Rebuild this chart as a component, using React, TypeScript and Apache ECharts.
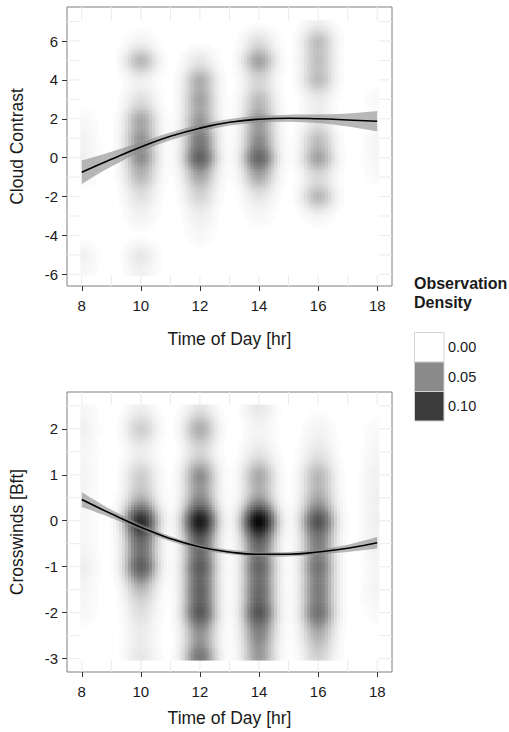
import React, { useEffect, useRef } from "react";
import * as echarts from "echarts";

// ---------- data ----------
const hourTicks = [8, 10, 12, 14, 16, 18];
const hourBreaks = [8, 9, 10, 11, 12, 13, 14, 15, 16, 17, 18];
const cloudTicks = [-6, -4, -2, 0, 2, 4, 6];
const cloudBreaks = [-6, -5, -4, -3, -2, -1, 0, 1, 2, 3, 4, 5, 6, 7];
const windTicks = [-3, -2, -1, 0, 1, 2];
const windBreaks = [-3, -2.5, -2, -1.5, -1, -0.5, 0, 0.5, 1, 1.5, 2, 2.5];

// observation hours and levels (counts of observations per hour / level)
const obsHours = [8, 10, 12, 14, 16, 18];
const cloudLevels = [-6, -5, -4, -3, -2, -1, 0, 1, 2, 3, 4, 5, 6, 7];
const cloudCounts = [
  [3, 6, 0, 0, 0, 3, 6, 5, 3, 0, 0, 0, 0, 0],
  [5, 10, 0, 5, 11, 27, 46, 42, 35, 12, 4, 31, 4, 0],
  [0, 0, 3, 6, 16, 32, 74, 54, 39, 36, 33, 9, 0, 0],
  [0, 0, 0, 3, 9, 32, 72, 44, 41, 26, 14, 40, 12, 0],
  [0, 0, 0, 3, 30, 12, 39, 25, 9, 6, 27, 25, 27, 5],
  [0, 0, 0, 0, 0, 2, 4, 4, 0, 3, 0, 0, 0, 0],
];
const windLevels = [-3, -2.5, -2, -1.5, -1, -0.5, 0, 0.5, 1, 1.5, 2, 2.5];
const windCounts = [
  [0, 0, 3, 3, 6, 3, 3, 3, 4, 3, 5, 3],
  [9, 6, 10, 20, 66, 48, 100, 21, 17, 4, 18, 4],
  [55, 31, 68, 58, 64, 53, 112, 34, 41, 10, 31, 7],
  [36, 40, 70, 55, 59, 51, 130, 26, 31, 7, 3, 9],
  [15, 25, 54, 45, 51, 42, 74, 27, 25, 8, 4, 0],
  [0, 0, 2, 4, 3, 5, 5, 5, 5, 3, 2, 0],
];

// smooth fits with confidence band
const fitHours = [8, 9, 10, 11, 12, 13, 14, 15, 16, 17, 18];
const cloudFit = [-0.75, -0.08, 0.55, 1.1, 1.52, 1.82, 1.98, 2.03, 2.0, 1.94, 1.87];
const cloudLo = [-1.35, -0.46, 0.31, 0.9, 1.34, 1.65, 1.81, 1.85, 1.78, 1.61, 1.36];
const cloudHi = [-0.15, 0.3, 0.79, 1.3, 1.7, 1.99, 2.15, 2.21, 2.22, 2.27, 2.4];
const windFit = [0.46, 0.15, -0.14, -0.39, -0.57, -0.68, -0.73, -0.73, -0.68, -0.6, -0.48];
const windLo = [0.3, 0.06, -0.205, -0.445, -0.62, -0.73, -0.78, -0.78, -0.735, -0.68, -0.605];
const windHi = [0.62, 0.24, -0.075, -0.335, -0.52, -0.63, -0.68, -0.68, -0.625, -0.52, -0.355];

const legendValues = [0, 0.05, 0.1];

// ---------- styling ----------
const FONT = '"Liberation Sans", Arial, Helvetica, sans-serif';
const densityColors = ["#ffffff", "#8a8a8a", "#3c3c3c", "#000000"];
const densityMax = 0.15;

function kde(
  hours: number[], levels: number[], counts: number[][],
  sx: number, sy: number, yMin: number, yMax: number, n: number
) {
  let N = 0;
  counts.forEach((r) => r.forEach((c) => (N += c)));
  const norm = 1 / (2 * Math.PI * sx * sy * N);
  const xMin = hours[0], xMax = hours[hours.length - 1];
  const cells: number[][] = [];
  for (let i = 0; i < n; i++) {
    const x = xMin + (i * (xMax - xMin)) / (n - 1);
    for (let j = 0; j < n; j++) {
      const y = yMin + (j * (yMax - yMin)) / (n - 1);
      let v = 0;
      for (let a = 0; a < hours.length; a++) {
        const ex = Math.exp(-0.5 * ((x - hours[a]) / sx) ** 2);
        if (ex < 1e-6) continue;
        for (let b = 0; b < levels.length; b++) {
          const c = counts[a][b];
          if (!c) continue;
          v += c * ex * Math.exp(-0.5 * ((y - levels[b]) / sy) ** 2);
        }
      }
      v *= norm;
      if (v >= 0.0012) cells.push([x, y, v]);
    }
  }
  return cells;
}

function curve(pts: number[][]) {
  let s = "";
  const n = pts.length;
  for (let i = 0; i < n - 1; i++) {
    const p0 = pts[Math.max(i - 1, 0)], p1 = pts[i], p2 = pts[i + 1], p3 = pts[Math.min(i + 2, n - 1)];
    const c1x = p1[0] + (p2[0] - p0[0]) / 6, c1y = p1[1] + (p2[1] - p0[1]) / 6;
    const c2x = p2[0] - (p3[0] - p1[0]) / 6, c2y = p2[1] - (p3[1] - p1[1]) / 6;
    s += ` C${c1x},${c1y} ${c2x},${c2y} ${p2[0]},${p2[1]}`;
  }
  return s;
}

export default function App() {
  const ref = useRef<HTMLDivElement>(null);
  useEffect(() => {
    document.body.style.margin = "0";
    if (!ref.current) return;
    const chart = echarts.init(ref.current, undefined, { renderer: "svg" });

    const n = 100;
    const cloudY: [number, number] = [-6, 7];
    const windY: [number, number] = [-3, 2.5];
    const cloudCells = kde(obsHours, cloudLevels, cloudCounts, 0.35, 0.45, cloudY[0], cloudY[1], n);
    const windCells = kde(obsHours, windLevels, windCounts, 0.35, 0.235, windY[0], windY[1], n);
    const dx = (obsHours[obsHours.length - 1] - obsHours[0]) / (n - 1);
    const dyC = (cloudY[1] - cloudY[0]) / (n - 1);
    const dyW = (windY[1] - windY[0]) / (n - 1);
    const xRange: [number, number] = [7.5, 18.5];
    const cloudRange: [number, number] = [-6.6, 7.75];
    const windRange: [number, number] = [-3.29, 2.8];

    const gridSeries = (gi: number, xs: number[], ys: number[], yr: number[]) => ({
      type: "custom", xAxisIndex: gi, yAxisIndex: gi, z: 1, silent: true,
      data: [[13, 0]],
      renderItem: (_p: any, api: any) => {
        const children: any[] = [];
        xs.forEach((v) => {
          const a = api.coord([v, yr[0]]);
          const b = api.coord([v, yr[1]]);
          children.push({ type: "line", shape: { x1: a[0], y1: a[1], x2: b[0], y2: b[1] }, style: { stroke: "#ebebeb", lineWidth: 1 } });
        });
        ys.forEach((v) => {
          const a = api.coord([xRange[0], v]);
          const b = api.coord([xRange[1], v]);
          children.push({ type: "line", shape: { x1: a[0], y1: a[1], x2: b[0], y2: b[1] }, style: { stroke: "#ebebeb", lineWidth: 1 } });
        });
        return { type: "group", children };
      },
    });

    const baseSeries = (gi: number, yr: number[], dy: number) => ({
      type: "custom", xAxisIndex: gi, yAxisIndex: gi, z: 2, silent: true,
      data: [[13, 0]],
      renderItem: (_p: any, api: any) => {
        const p0 = api.coord([obsHours[0] - dx / 2, yr[1] + dy / 2]);
        const p1 = api.coord([obsHours[obsHours.length - 1] + dx / 2, yr[0] - dy / 2]);
        return { type: "rect", shape: { x: p0[0], y: p0[1], width: p1[0] - p0[0], height: p1[1] - p0[1] }, style: { fill: "#ffffff" } };
      },
    });

    const heatSeries = (gi: number, cells: number[][], dy: number) => ({
      type: "custom", xAxisIndex: gi, yAxisIndex: gi, z: 3, silent: true,
      progressive: 0,
      dimensions: ["x", "y", "density"],
      encode: { x: 0, y: 1 },
      data: cells,
      renderItem: (_p: any, api: any) => {
        const x = api.value(0), y = api.value(1);
        const p0 = api.coord([x - dx / 2, y + dy / 2]);
        const p1 = api.coord([x + dx / 2, y - dy / 2]);
        return {
          type: "rect",
          shape: { x: p0[0], y: p0[1], width: p1[0] - p0[0] + 0.6, height: p1[1] - p0[1] + 0.6 },
          style: { fill: api.visual("color") },
        };
      },
    });

    const bandSeries = (gi: number, lo: number[], hi: number[]) => ({
      type: "custom", xAxisIndex: gi, yAxisIndex: gi, z: 4, silent: true,
      data: [[13, 0]],
      renderItem: (_p: any, api: any) => {
        const up = fitHours.map((h, i) => api.coord([h, hi[i]]));
        const dn = fitHours.map((h, i) => api.coord([h, lo[i]])).reverse();
        const d = `M${up[0][0]},${up[0][1]}` + curve(up) + ` L${dn[0][0]},${dn[0][1]}` + curve(dn) + " Z";
        return { type: "path", shape: { pathData: d }, style: { fill: "rgba(140,140,140,0.62)" } };
      },
    });

    const fitSeries = (gi: number, fit: number[]) => ({
      type: "line", xAxisIndex: gi, yAxisIndex: gi, z: 5, silent: true,
      data: fitHours.map((h, i) => [h, fit[i]]), symbol: "none", smooth: true,
      lineStyle: { color: "#000000", width: 1.6 },
    });

    const xAxis = (gi: number, gap: number) => ({
      type: "value", gridIndex: gi, min: xRange[0], max: xRange[1],
      axisLine: { show: false, onZero: false },
      axisTick: { show: true, customValues: hourTicks, length: 5, lineStyle: { color: "#333333", width: 1 } },
      axisLabel: { customValues: hourTicks, margin: 12, fontSize: 15, color: "#1a1a1a", fontFamily: FONT },
      splitLine: { show: false },
      name: "Time of Day [hr]", nameLocation: "middle", nameGap: gap,
      nameTextStyle: { fontSize: 17.5, color: "#1a1a1a", fontFamily: FONT },
    });

    const yAxis = (gi: number, range: number[], ticks: number[], name: string) => ({
      type: "value", gridIndex: gi, min: range[0], max: range[1],
      axisLine: { show: false, onZero: false },
      axisTick: { show: true, customValues: ticks, length: 5, lineStyle: { color: "#333333", width: 1 } },
      axisLabel: { customValues: ticks, margin: 9, fontSize: 15, color: "#1a1a1a", fontFamily: FONT },
      splitLine: { show: false },
      name, nameLocation: "middle", nameGap: 41,
      nameTextStyle: { fontSize: 17.5, color: "#1a1a1a", fontFamily: FONT },
    });

    const legendGraphics: any[] = [
      { type: "text", x: 414, y: 283, style: { text: "Observation", fontSize: 16, fontWeight: "bold", fontFamily: FONT, fill: "#1a1a1a", verticalAlign: "middle" } },
      { type: "text", x: 414, y: 302, style: { text: "Density", fontSize: 16, fontWeight: "bold", fontFamily: FONT, fill: "#1a1a1a", verticalAlign: "middle" } },
    ];
    legendValues.forEach((v, i) => {
      legendGraphics.push({
        type: "rect", x: 414.5, y: 332.5 + i * 29.5,
        shape: { x: 0, y: 0, width: 29.5, height: 29.5 },
        style: { fill: densityColors[i], stroke: "#d4d4d4", lineWidth: 1 },
      });
      legendGraphics.push({
        type: "text", x: 448, y: 347 + i * 29.5,
        style: { text: v.toFixed(2), fontSize: 14.5, fontFamily: FONT, fill: "#1a1a1a", verticalAlign: "middle" },
      });
    });

    chart.setOption({
      animation: false,
      backgroundColor: "#ffffff",
      grid: [
        { left: 65, top: 7, width: 327, height: 279, show: true, borderColor: "#7f7f7f", borderWidth: 1, backgroundColor: "#ffffff" },
        { left: 65, top: 392, width: 327, height: 280, show: true, borderColor: "#7f7f7f", borderWidth: 1, backgroundColor: "#ffffff" },
      ],
      xAxis: [xAxis(0, 44), xAxis(1, 37)],
      yAxis: [yAxis(0, cloudRange, cloudTicks, "Cloud Contrast"), yAxis(1, windRange, windTicks, "Crosswinds [Bft]")],
      visualMap: {
        show: false, type: "continuous", min: 0, max: densityMax, dimension: 2, seriesIndex: [4, 5],
        inRange: { color: densityColors },
      },
      graphic: legendGraphics,
      series: [
        gridSeries(0, hourBreaks, cloudBreaks, cloudRange),
        gridSeries(1, hourBreaks, windBreaks, windRange),
        baseSeries(0, cloudY, dyC),
        baseSeries(1, windY, dyW),
        heatSeries(0, cloudCells, dyC),
        heatSeries(1, windCells, dyW),
        bandSeries(0, cloudLo, cloudHi),
        bandSeries(1, windLo, windHi),
        fitSeries(0, cloudFit),
        fitSeries(1, windFit),
      ],
    });
    return () => chart.dispose();
  }, []);
  return <div ref={ref} style={{ width: 509, height: 732 }} />;
}
